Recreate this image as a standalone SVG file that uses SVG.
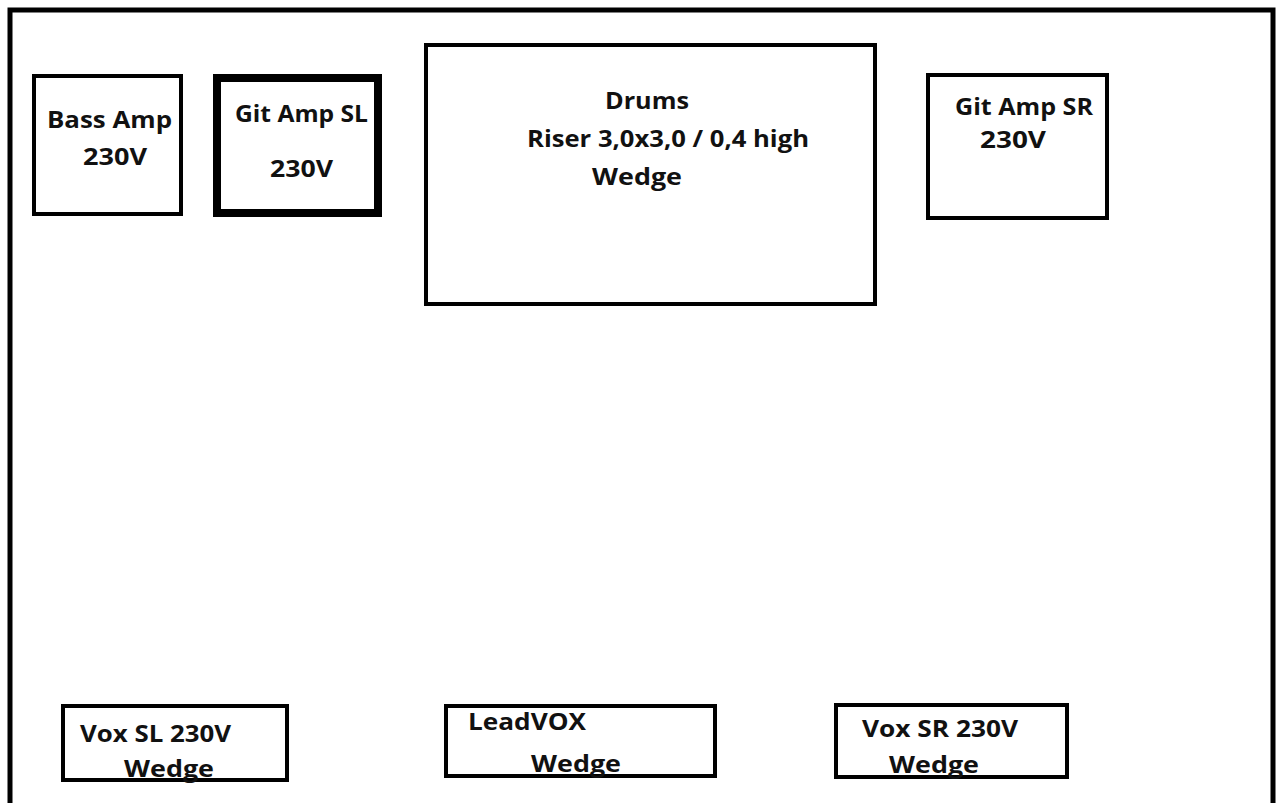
<svg xmlns="http://www.w3.org/2000/svg" width="1278" height="803" viewBox="0 0 1278 803">
<style>
.box{fill:none;stroke:#000;stroke-width:4}
.thick{stroke-width:8}
text{font-family:"Open Sans","Liberation Sans",sans-serif;font-weight:bold;font-size:23px;fill:#111}
</style>
<rect width="1278" height="803" fill="#fff"/>
<g id="stage">
<path d="M10,803 V10 H1273 V803" fill="none" stroke="#000" stroke-width="5"/>
</g>
<g id="bass-amp">
<rect class="box" x="34" y="76" width="147" height="138"/>
<text x="47" y="128" textLength="125" lengthAdjust="spacingAndGlyphs">Bass Amp</text>
<text x="83" y="165" textLength="64" lengthAdjust="spacingAndGlyphs">230V</text>
</g>
<g id="git-amp-sl">
<rect class="box thick" x="217" y="78" width="161" height="135"/>
<text x="235" y="122" textLength="133" lengthAdjust="spacingAndGlyphs">Git Amp SL</text>
<text x="270" y="177" textLength="63" lengthAdjust="spacingAndGlyphs">230V</text>
</g>
<g id="drums">
<rect class="box" x="426" y="45" width="449" height="259"/>
<text x="605" y="109" textLength="84" lengthAdjust="spacingAndGlyphs">Drums</text>
<text x="527" y="147" textLength="282" lengthAdjust="spacingAndGlyphs">Riser 3,0x3,0 / 0,4 high</text>
<text x="592" y="185" textLength="90" lengthAdjust="spacingAndGlyphs">Wedge</text>
</g>
<g id="git-amp-sr">
<rect class="box" x="928" y="75" width="179" height="143"/>
<text x="955" y="115" textLength="138" lengthAdjust="spacingAndGlyphs">Git Amp SR</text>
<text x="980" y="148" textLength="66" lengthAdjust="spacingAndGlyphs">230V</text>
</g>
<g id="vox-sl">
<rect class="box" x="63" y="706" width="224" height="74"/>
<text x="80" y="742" textLength="151" lengthAdjust="spacingAndGlyphs">Vox SL 230V</text>
<text x="124" y="777" textLength="90" lengthAdjust="spacingAndGlyphs">Wedge</text>
</g>
<g id="leadvox">
<rect class="box" x="446" y="706" width="269" height="70"/>
<text x="468" y="730" textLength="118" lengthAdjust="spacingAndGlyphs">LeadVOX</text>
<text x="531" y="772" textLength="90" lengthAdjust="spacingAndGlyphs">Wedge</text>
</g>
<g id="vox-sr">
<rect class="box" x="836" y="705" width="231" height="72"/>
<text x="862" y="737" textLength="156" lengthAdjust="spacingAndGlyphs">Vox SR 230V</text>
<text x="889" y="773" textLength="90" lengthAdjust="spacingAndGlyphs">Wedge</text>
</g>
<g id="connectors"></g>
</svg>
